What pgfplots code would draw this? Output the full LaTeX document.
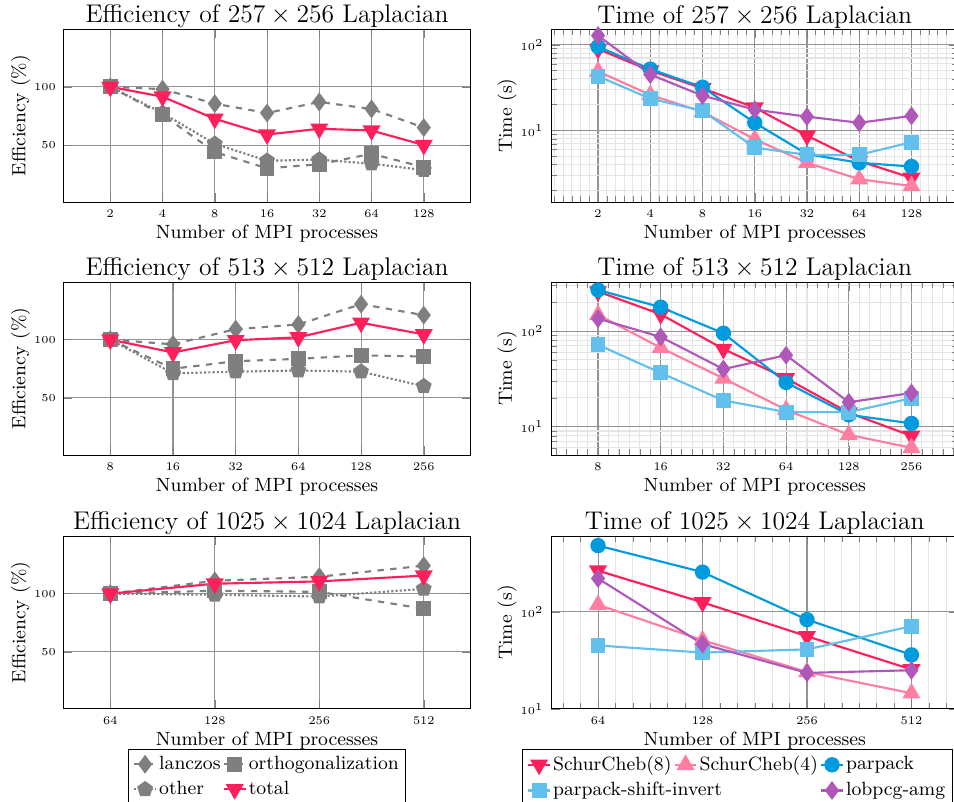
\documentclass[border=0pt]{standalone}
\usepackage{pgfplots}
\pgfplotsset{compat=1.18}
\definecolor{cred}{HTML}{FF1F5B}
\definecolor{cpink}{HTML}{FF7EA2}
\definecolor{cblue}{HTML}{009ADE}
\definecolor{clblue}{HTML}{62C0EC}
\definecolor{cpurple}{HTML}{AF58BA}
\definecolor{cgray}{HTML}{7F7F7F}
\pgfplotsset{
  every axis/.append style={
    scale only axis, width=191.3pt, height=81.2pt,
    enlarge x limits=0.15,
    tick label style={font=\fontsize{5.5}{6}\selectfont},
    label style={font=\small},
    title style={font=\large, yshift=-3pt},
    every axis title shift=0pt,
    xlabel={Number of MPI processes},
    xlabel style={yshift=3.5pt},
    ylabel style={yshift=-5pt},
    legend style={font=\small, draw=black, cells={anchor=west}, inner xsep=2.3pt, inner ysep=1pt,
      nodes={inner xsep=1pt}},
  },
}
\tikzset{
  mylan/.style={cgray, dashed, line width=1pt, mark=diamond*, mark size=3.6pt, mark options={solid}},
  myort/.style={cgray, dashed, line width=1pt, mark=square*, mark size=3pt, mark options={solid}},
  myoth/.style={cgray, densely dotted, line width=1pt, mark=pentagon*, mark size=3.3pt, mark options={solid}},
  mytot/.style={cred, solid, line width=1pt, mark=triangle*, mark size=3.9pt, mark options={rotate=180}},
  mysc8/.style={cred, solid, line width=1pt, mark=triangle*, mark size=3.9pt, mark options={rotate=180}},
  mysc4/.style={cpink, solid, line width=1pt, mark=triangle*, mark size=3.9pt},
  myppk/.style={cblue, solid, line width=1pt, mark=*, mark size=3.1pt},
  mypsi/.style={clblue, solid, line width=1pt, mark=square*, mark size=3pt},
  mylob/.style={cpurple, solid, line width=1pt, mark=diamond*, mark size=3.6pt},
}
\begin{document}
\begin{tikzpicture}
% ---------------- top row ----------------
\begin{semilogxaxis}[at={(29.72pt,281.6pt)}, anchor=south west,
  ymin=1, ymax=149.5, ytick={50,100}, ylabel={Efficiency (\%)}, xminorticks=false,
  grid=major, major grid style={gray!85, line width=0.5pt},
  title={Efficiency of $257\times256$ Laplacian},
  xtick={2,4,8,16,32,64,128}, xticklabels={2,4,8,16,32,64,128}]
\addplot[mylan] coordinates {(2,100)(4,98)(8,85.5)(16,77.5)(32,87)(64,81)(128,65)};
\addplot[myort] coordinates {(2,100)(4,76)(8,44)(16,30)(32,33.5)(64,42.5)(128,31)};
\addplot[myoth] coordinates {(2,100)(4,77.5)(8,51)(16,36.5)(32,37.5)(64,34)(128,28.5)};
\addplot[mytot] coordinates {(2,100)(4,91.5)(8,72.5)(16,59)(32,64)(64,62.5)(128,50)};
\end{semilogxaxis}
\begin{loglogaxis}[at={(258.7pt,281.6pt)}, anchor=south west,
  grid=both, ylabel={Time (s)},
  minor xtick={1.1225,1.2599,1.4142,1.5874,1.7818,2.2449,2.5198,2.8284,3.1748,3.5636,4.4898,5.0397,5.6569,6.3496,7.1272,8.9797,10.079,11.314,12.699,14.254,17.959,20.159,22.627,25.398,28.509,35.919,40.318,45.255,50.797,57.018,71.838,80.635,90.510,101.59,114.04,143.68,161.27,181.02,203.19,228.07},
  major grid style={gray!85, line width=0.5pt},
  minor grid style={gray!20, line width=0.5pt},
  title={Time of $257\times256$ Laplacian}, ymin=1.46, ymax=152,
  xtick={2,4,8,16,32,64,128}, xticklabels={2,4,8,16,32,64,128}]
\addplot[mysc8] coordinates {(2,89)(4,50)(8,31)(16,18.5)(32,8.7)(64,4.4)(128,2.8)};
\addplot[mysc4] coordinates {(2,49)(4,26)(8,16.5)(16,7.9)(32,4.2)(64,2.7)(128,2.25)};
\addplot[myppk] coordinates {(2,95)(4,52)(8,32)(16,12.3)(32,5.3)(64,4.2)(128,3.8)};
\addplot[mypsi] coordinates {(2,43)(4,23.5)(8,17)(16,6.3)(32,5.2)(64,5.2)(128,7.3)};
\addplot[mylob] coordinates {(2,128)(4,45)(8,25.5)(16,17.5)(32,14.5)(64,12.3)(128,14.8)};
\end{loglogaxis}
% ---------------- middle row ----------------
\begin{semilogxaxis}[at={(29.72pt,162.9pt)}, anchor=south west,
  ymin=1, ymax=149.5, ytick={50,100}, ylabel={Efficiency (\%)}, xminorticks=false,
  grid=major, major grid style={gray!85, line width=0.5pt},
  title={Efficiency of $513\times512$ Laplacian},
  xtick={8,16,32,64,128,256}, xticklabels={8,16,32,64,128,256}]
\addplot[mylan] coordinates {(8,100)(16,96)(32,109)(64,113)(128,130.5)(256,121)};
\addplot[myort] coordinates {(8,100)(16,75)(32,81.5)(64,83.5)(128,86.5)(256,85.5)};
\addplot[myoth] coordinates {(8,100)(16,71)(32,72.5)(64,73.5)(128,72.5)(256,60)};
\addplot[mytot] coordinates {(8,100)(16,89)(32,99.5)(64,102)(128,114.5)(256,104.5)};
\end{semilogxaxis}
\begin{loglogaxis}[at={(258.7pt,162.9pt)}, anchor=south west,
  grid=both, ylabel={Time (s)},
  minor xtick={5.0397,5.6569,6.3496,7.1272,8.9797,10.079,11.314,12.699,14.254,17.959,20.159,22.627,25.398,28.509,35.919,40.318,45.255,50.797,57.018,71.838,80.635,90.510,101.59,114.04,143.68,161.27,181.02,203.19,228.07,287.35,322.54,362.04,406.37},
  major grid style={gray!85, line width=0.5pt},
  minor grid style={gray!20, line width=0.5pt},
  title={Time of $513\times512$ Laplacian}, ymin=5.05, ymax=327,
  xtick={8,16,32,64,128,256}, xticklabels={8,16,32,64,128,256}]
\addplot[mysc8] coordinates {(8,260)(16,150)(32,65)(64,32)(128,14)(256,8)};
\addplot[mysc4] coordinates {(8,148)(16,67)(32,32)(64,15)(128,8.2)(256,6)};
\addplot[myppk] coordinates {(8,270)(16,178)(32,95)(64,29)(128,13.3)(256,10.8)};
\addplot[mypsi] coordinates {(8,72)(16,36.5)(32,18.8)(64,14.2)(128,14.2)(256,19.8)};
\addplot[mylob] coordinates {(8,135)(16,87)(32,40)(64,56)(128,18)(256,22.5)};
\end{loglogaxis}
% ---------------- bottom row ----------------
\begin{semilogxaxis}[at={(29.72pt,43.66pt)}, anchor=south west,
  ymin=1, ymax=149.5, ytick={50,100}, ylabel={Efficiency (\%)}, xminorticks=false,
  grid=major, major grid style={gray!85, line width=0.5pt},
  title={Efficiency of $1025\times1024$ Laplacian},
  xtick={64,128,256,512}, xticklabels={64,128,256,512},
  legend columns=2,
  legend image code/.code={\draw[mark repeat=2,mark phase=2] plot coordinates {(0cm,0cm) (0.18cm,0cm) (0.36cm,0cm)};},
  legend style={at={(0.5,-0.233)}, anchor=north}]
\addplot[mylan] coordinates {(64,100)(128,111)(256,114.5)(512,124)};
\addlegendentry{lanczos}
\addplot[myort] coordinates {(64,100)(128,102.5)(256,101.5)(512,87)};
\addlegendentry{orthogonalization}
\addplot[myoth] coordinates {(64,100)(128,99)(256,97.5)(512,104)};
\addlegendentry{other}
\addplot[mytot] coordinates {(64,100)(128,108.5)(256,110.5)(512,115.5)};
\addlegendentry{total}
\end{semilogxaxis}
\begin{loglogaxis}[at={(258.7pt,43.66pt)}, anchor=south west,
  grid=both, yminorgrids=false, yminorticks=false, ylabel={Time (s)},
  minor xtick={50.797,57.018,71.838,80.635,90.510,101.59,114.04,143.68,161.27,181.02,203.19,228.07,287.35,322.54,362.04,406.37,456.14,574.70,645.08},
  major grid style={gray!85, line width=0.5pt},
  minor grid style={gray!20, line width=0.5pt},
  title={Time of $1025\times1024$ Laplacian}, ymin=10, ymax=603,
  xtick={64,128,256,512}, xticklabels={64,128,256,512},
  legend columns=3,
  legend image code/.code={\draw[mark repeat=2,mark phase=2] plot coordinates {(0cm,0cm) (0.18cm,0cm) (0.36cm,0cm)};},
  legend style={at={(0.457,-0.233)}, anchor=north}]
\addplot[mysc8] coordinates {(64,265)(128,125)(256,56)(512,25.5)};
\addlegendentry{SchurCheb(8)}
\addplot[mysc4] coordinates {(64,118)(128,51)(256,24)(512,14.5)};
\addlegendentry{SchurCheb(4)}
\addplot[myppk] coordinates {(64,480)(128,256)(256,83)(512,36)};
\addlegendentry{parpack}
\addplot[mypsi] coordinates {(64,45)(128,38)(256,41)(512,71)};
\addlegendentry{\makebox[0pt][l]{parpack-shift-invert}}
\addlegendimage{empty legend}
\addlegendentry{}
\addplot[mylob] coordinates {(64,220)(128,46.5)(256,23.5)(512,25)};
\addlegendentry{lobpcg-amg}
\end{loglogaxis}
\pgfresetboundingbox
\useasboundingbox (0pt,0pt) rectangle (447.9pt,376.5pt);
\end{tikzpicture}
\end{document}
